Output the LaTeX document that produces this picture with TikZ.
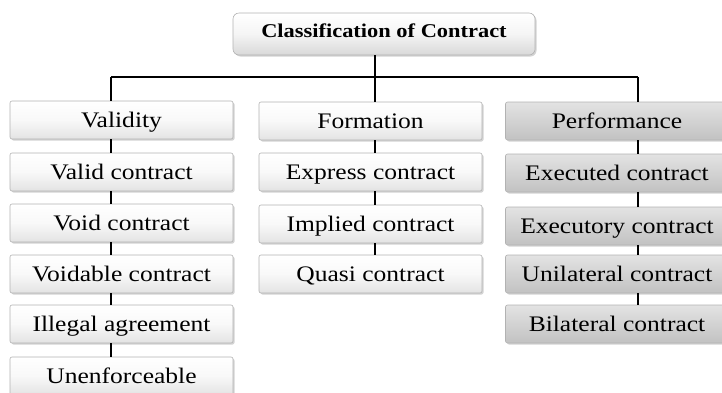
\documentclass[tikz,border=0pt]{standalone}
\usepackage{fontspec}
\setmainfont{Liberation Serif}[FakeStretch=1.15]
\usetikzlibrary{shadows}
\begin{document}
\begin{tikzpicture}[x=1pt,y=-1pt,
  box/.style={draw=gray!60, line width=0.6pt, rounded corners=2pt,
    minimum width=223pt, minimum height=38pt, inner sep=0pt,
    text height=14.8pt, text depth=0pt,
    top color=white, bottom color=gray!22, middle color=gray!5,
    drop shadow={shadow xshift=1.5pt, shadow yshift=-1.5pt, opacity=0.35},
    font=\fontsize{22.2}{24}\selectfont},
  pbox/.style={box, top color=gray!22, middle color=gray!7, bottom color=gray!48},
  titlebox/.style={draw=gray!60, line width=0.6pt, rounded corners=6pt,
    minimum width=302pt, minimum height=42pt, inner sep=0pt,
    text height=13pt, text depth=7pt,
    top color=white, bottom color=gray!30, middle color=gray!8,
    drop shadow={shadow xshift=1.5pt, shadow yshift=-1.5pt, opacity=0.35},
    font=\fontsize{19.5}{21}\selectfont\bfseries},
  conn/.style={line width=2.6pt, black}]
\useasboundingbox (0,0) rectangle (722,392);

\node[titlebox] (t) at (384,34) {Classification of Contract};

% Validity column
\node[box] (v1) at (121.5,120) {Validity};
\node[box] (v2) at (121.5,172) {Valid contract};
\node[box] (v3) at (121.5,223) {Void contract};
\node[box] (v4) at (121.5,274) {Voidable contract};
\node[box] (v5) at (121.5,324) {Illegal agreement};
\node[box] (v6) at (121.5,376) {Unenforceable};

% Formation column
\node[box] (f1) at (370.5,121) {Formation};
\node[box] (f2) at (370.5,172) {Express contract};
\node[box] (f3) at (370.5,224) {Implied contract};
\node[box] (f4) at (370.5,274) {Quasi contract};

% Performance column
\node[pbox] (p1) at (617,121) {Performance};
\node[pbox] (p2) at (617,173) {Executed contract};
\node[pbox] (p3) at (617,226) {Executory contract};
\node[pbox] (p4) at (617,274) {Unilateral contract};
\node[pbox] (p5) at (617,324) {Bilateral contract};

% column line positions
\coordinate (vx) at (111,0);
\coordinate (fx) at (375,0);
\coordinate (px) at (638,0);
\coordinate (hy) at (0,77);

% tree connectors
\draw[conn] (t.south -| fx) -- (f1.north -| fx);
\draw[conn] (hy -| vx) -- (hy -| px);
\draw[conn] (hy -| vx) -- (v1.north -| vx);
\draw[conn] (hy -| px) -- (p1.north -| px);

\foreach \a/\b in {v1/v2,v2/v3,v3/v4,v4/v5,v5/v6}
  \draw[conn] (\a.south -| vx) -- (\b.north -| vx);
\foreach \a/\b in {f1/f2,f2/f3,f3/f4}
  \draw[conn] (\a.south -| fx) -- (\b.north -| fx);
\foreach \a/\b in {p1/p2,p2/p3,p3/p4,p4/p5}
  \draw[conn] (\a.south -| px) -- (\b.north -| px);
\end{tikzpicture}
\end{document}
